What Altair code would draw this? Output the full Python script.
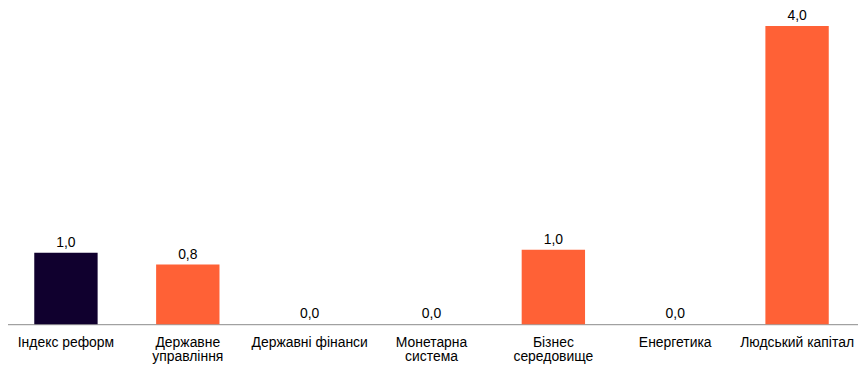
import altair as alt
import pandas as pd

categories = ["Індекс реформ", "Державне\nуправління", "Державні фінанси",
              "Монетарна\nсистема", "Бізнес\nсередовище", "Енергетика", "Людський капітал"]
values = [0.96, 0.8, 0.0, 0.0, 1.0, 0.0, 4.0]
groups = ["index", "sub", "sub", "sub", "sub", "sub", "sub"]

df = pd.DataFrame({"cat": categories, "v": values, "g": groups})

x = alt.X("cat:N", sort=categories, title=None,
          scale=alt.Scale(paddingInner=0.48, paddingOuter=0.24),
          axis=alt.Axis(labelExpr="split(datum.label, '\\n')", labelAngle=0,
                        labelFont="Liberation Sans", labelFontSize=14, labelColor="#000000",
                        labelPadding=11, labelLineHeight=15, ticks=False, domainColor="#8a8a8a",
                        domainWidth=1, labelBaseline="top"))
y = alt.Y("v:Q", scale=alt.Scale(domain=[0, 4], nice=False), axis=None, title=None)

bars = alt.Chart(df).mark_bar().encode(
    x=x, y=y,
    color=alt.Color("g:N", scale=alt.Scale(domain=["index", "sub"], range=["#10002e", "#ff6136"]), legend=None),
)
labels = alt.Chart(df).transform_calculate(
    lab="replace(format(datum.v, '.1f'), '.', ',')"
).mark_text(baseline="alphabetic", dy=-6, font="Liberation Sans", fontSize=14, color="#000000").encode(
    x=alt.X("cat:N", sort=categories), y="v:Q", text="lab:N"
)

chart = alt.layer(bars, labels).properties(
    width=858, height=300,
    padding={"left": -3, "top": 17, "right": 0, "bottom": 45},
    autosize=alt.AutoSizeParams(type="none"),
).configure_view(stroke=None).configure_axis(grid=False)

chart.save("out.html", embed_options={"renderer": "svg", "actions": False})
